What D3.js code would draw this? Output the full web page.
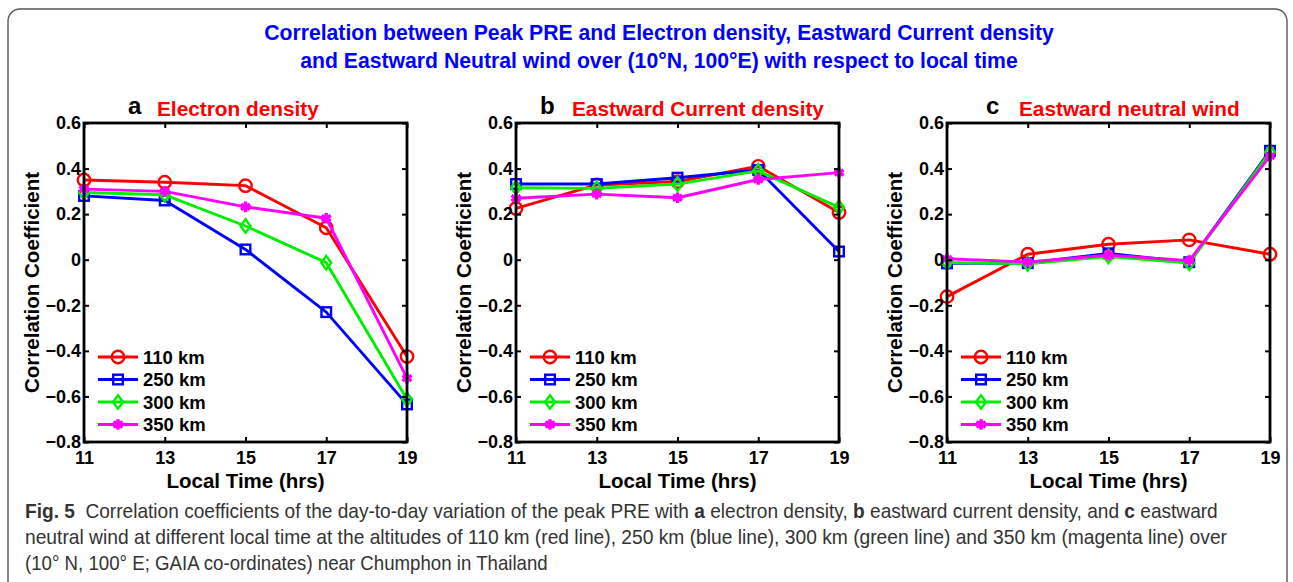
<!DOCTYPE html>
<html>
<head>
<meta charset="utf-8">
<script src="https://cdn.jsdelivr.net/npm/d3@7"></script>
<style>
  body { margin: 0; background: #fff; }
  svg { display: block; }
  text { font-family: "Liberation Sans", Arial, sans-serif; }
</style>
</head>
<body>
<svg id="chart" width="1293" height="582"></svg>
<script>
// ---- data ----
var hours = [11, 13, 15, 17, 19];
var yTicks = [0.6, 0.4, 0.2, 0, -0.2, -0.4, -0.6, -0.8];
var altitudes = ["110 km", "250 km", "300 km", "350 km"];

var electron110 = [0.35, 0.34, 0.325, 0.14, -0.425];
var electron250 = [0.28, 0.26, 0.045, -0.23, -0.635];
var electron300 = [0.295, 0.285, 0.148, -0.013, -0.612];
var electron350 = [0.31, 0.30, 0.232, 0.182, -0.52];

var current110 = [0.225, 0.328, 0.343, 0.41, 0.207];
var current250 = [0.332, 0.332, 0.36, 0.394, 0.036];
var current300 = [0.316, 0.313, 0.332, 0.39, 0.23];
var current350 = [0.27, 0.288, 0.272, 0.352, 0.382];

var wind110 = [-0.162, 0.024, 0.068, 0.087, 0.024];
var wind250 = [-0.016, -0.015, 0.028, -0.011, 0.478];
var wind300 = [-0.012, -0.018, 0.014, -0.015, 0.472];
var wind350 = [0.004, -0.01, 0.02, -0.004, 0.455];

var panelLetters = ["a", "b", "c"];
var panelTitles = ["Electron density", "Eastward Current density", "Eastward neutral wind"];
var panelSeries = [
  [electron110, electron250, electron300, electron350],
  [current110, current250, current300, current350],
  [wind110, wind250, wind300, wind350]
];

// ---- layout ----
var colors = ["#ff0000", "#0000ff", "#00ee00", "#ff00ff"];
var plotLeft = [84, 516, 947];
var plotWidth = 323;
var plotTop = 123;
var plotBottom = 442;
var letterX = [128, 540, 986];
var titleX = [157, 572, 1019];

var svg = d3.select("#chart");

// rounded frame
svg.append("rect")
  .attr("x", 8).attr("y", 9)
  .attr("width", 1279).attr("height", 584)
  .attr("rx", 12).attr("ry", 12)
  .attr("fill", "none")
  .attr("stroke", "#555")
  .attr("stroke-width", 1.4);

// main title
var title = svg.append("g").attr("fill", "#0000ff")
  .attr("font-weight", "bold").attr("font-size", 21.2)
  .attr("text-anchor", "middle");
title.append("text").attr("x", 659).attr("y", 40)
  .text("Correlation between Peak PRE and Electron density, Eastward Current density");
title.append("text").attr("x", 659).attr("y", 68)
  .text("and Eastward Neutral wind over (10°N, 100°E) with respect to local time");

var y = d3.scaleLinear().domain([-0.8, 0.6]).range([plotBottom, plotTop]);

function drawMarker(g, i, cx, cy) {
  var c = colors[i];
  if (i === 0) {
    g.append("circle").attr("cx", cx).attr("cy", cy).attr("r", 6.2)
      .attr("fill", "none").attr("stroke", c).attr("stroke-width", 2.4);
  } else if (i === 1) {
    g.append("rect").attr("x", cx - 4.8).attr("y", cy - 4.8)
      .attr("width", 9.6).attr("height", 9.6)
      .attr("fill", "none").attr("stroke", c).attr("stroke-width", 2.4);
  } else if (i === 2) {
    g.append("path")
      .attr("d", `M${cx},${cy - 6.8}L${cx + 5},${cy}L${cx},${cy + 6.8}L${cx - 5},${cy}Z`)
      .attr("fill", "none").attr("stroke", c).attr("stroke-width", 2.4);
  } else {
    g.append("path")
      .attr("d", d3.symbol().type(d3.symbolAsterisk).size(80)())
      .attr("transform", `translate(${cx},${cy})`)
      .attr("fill", "none").attr("stroke", c).attr("stroke-width", 3.4);
  }
}

panelSeries.forEach(function(series, p) {
  var x = d3.scaleLinear().domain([11, 19])
    .range([plotLeft[p], plotLeft[p] + plotWidth]);
  var g = svg.append("g");

  // series lines and markers
  var line = d3.line().x((d, k) => x(hours[k])).y(d => y(d));
  series.forEach(function(vals, i) {
    g.append("path").datum(vals)
      .attr("d", line)
      .attr("fill", "none")
      .attr("stroke", colors[i])
      .attr("stroke-width", 2.9)
      .attr("stroke-linejoin", "round");
    vals.forEach(function(v, k) {
      drawMarker(g, i, x(hours[k]), y(v));
    });
  });

  // axes: ticks inward on all sides
  var bottomAxis = d3.axisBottom(x).tickValues(hours).tickSize(-5).tickPadding(9).tickFormat(d3.format("d"));
  var topAxis = d3.axisTop(x).tickValues(hours).tickSize(-5).tickFormat("");
  var leftAxis = d3.axisLeft(y).tickValues(yTicks).tickSize(-5).tickPadding(3)
    .tickFormat(d => d === 0 ? "0" : d3.format(".1f")(d));
  var rightAxis = d3.axisRight(y).tickValues(yTicks).tickSize(-5).tickFormat("");

  var axes = [
    g.append("g").attr("transform", `translate(0,${plotBottom})`).call(bottomAxis),
    g.append("g").attr("transform", `translate(0,${plotTop})`).call(topAxis),
    g.append("g").attr("transform", `translate(${plotLeft[p]},0)`).call(leftAxis),
    g.append("g").attr("transform", `translate(${plotLeft[p] + plotWidth},0)`).call(rightAxis)
  ];
  axes.forEach(function(a) {
    a.select(".domain").remove();
    a.selectAll(".tick line").attr("stroke", "#000").attr("stroke-width", 2);
    a.selectAll("text").attr("font-family", "Liberation Sans, Arial, sans-serif")
      .attr("font-size", 18).attr("font-weight", "bold").attr("fill", "#000");
  });

  // box
  g.append("rect")
    .attr("x", plotLeft[p]).attr("y", plotTop)
    .attr("width", plotWidth).attr("height", plotBottom - plotTop)
    .attr("fill", "none").attr("stroke", "#000").attr("stroke-width", 2.8);

  // axis labels
  g.append("text")
    .attr("transform", `translate(${plotLeft[p] - 45},${(plotTop + plotBottom) / 2}) rotate(-90)`)
    .attr("text-anchor", "middle")
    .attr("font-size", 20.5).attr("font-weight", "bold")
    .text("Correlation Coefficient");
  g.append("text")
    .attr("x", plotLeft[p] + plotWidth / 2).attr("y", 488)
    .attr("text-anchor", "middle")
    .attr("font-size", 20.5).attr("font-weight", "bold")
    .text("Local Time (hrs)");

  // panel titles
  g.append("text").attr("x", letterX[p]).attr("y", 114)
    .attr("font-size", 24).attr("font-weight", "bold").text(panelLetters[p]);
  g.append("text").attr("x", titleX[p]).attr("y", 116)
    .attr("font-size", 20.8).attr("font-weight", "bold").attr("fill", "#ff0000")
    .text(panelTitles[p]);

  // legend
  var legend = g.append("g");
  altitudes.forEach(function(name, i) {
    var ly = 357 + i * 22.5;
    var lx = plotLeft[p] + 14;
    legend.append("line")
      .attr("x1", lx).attr("x2", lx + 40).attr("y1", ly).attr("y2", ly)
      .attr("stroke", colors[i]).attr("stroke-width", 2.9);
    drawMarker(legend, i, lx + 20, ly);
    legend.append("text").attr("x", lx + 45).attr("y", ly).attr("dy", "0.36em")
      .attr("font-size", 18.5).attr("font-weight", "bold").text(name);
  });
});

// caption
var captionLines = [
  [["Fig. 5", true], ["  Correlation coefficients of the day-to-day variation of the peak PRE with ", false],
   ["a", true], [" electron density, ", false], ["b", true], [" eastward current density, and ", false],
   ["c", true], [" eastward", false]],
  [["neutral wind at different local time at the altitudes of 110 km (red line), 250 km (blue line), 300 km (green line) and 350 km (magenta line) over", false]],
  [["(10° N, 100° E; GAIA co-ordinates) near Chumphon in Thailand", false]]
];
var captionEnds = [1219, 1228, 548];
captionLines.forEach(function(parts, i) {
  var t = svg.append("text")
    .attr("x", 0).attr("y", 0)
    .attr("font-family", "'Open Sans', sans-serif")
    .attr("font-size", 20.5).attr("fill", "#333")
    .attr("xml:space", "preserve")
    .style("white-space", "pre");
  parts.forEach(function(pt) {
    t.append("tspan").attr("font-weight", pt[1] ? "bold" : "normal").text(pt[0]);
  });
  var w = t.node().getComputedTextLength();
  var sx = (captionEnds[i] - 25) / w;
  t.attr("transform", `translate(25,${518 + i * 26}) scale(${sx},1)`);
});
</script>
</body>
</html>
